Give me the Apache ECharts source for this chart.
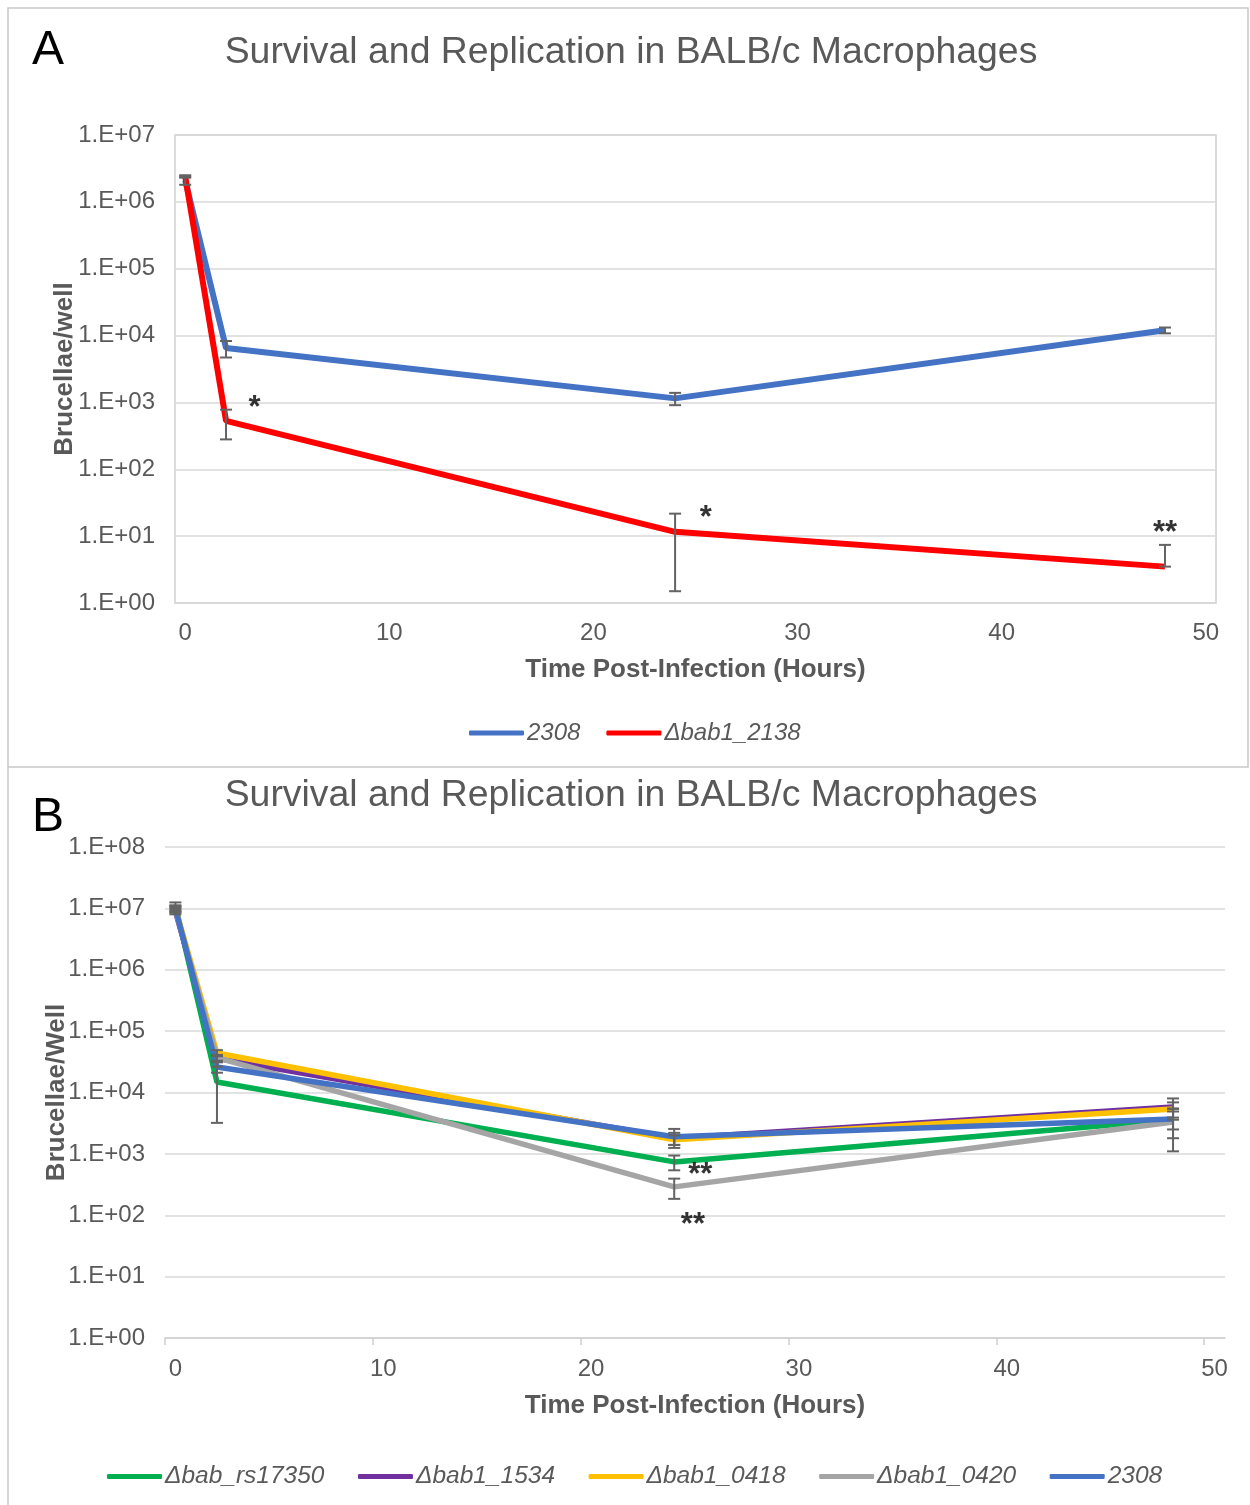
<!DOCTYPE html>
<html>
<head>
<meta charset="utf-8">
<script src="https://cdn.jsdelivr.net/npm/echarts@6/dist/echarts.min.js"></script>
<style>
  html, body { margin: 0; padding: 0; background: #fff; }
  #chart { width: 1250px; height: 1505px; }
</style>
</head>
<body>
<div id="chart"></div>
<script>
// 数据
var xTicks = [0, 10, 20, 30, 40, 50];
var timesA = [0, 2, 24, 48];
var wtA = [2.1e6, 6.5e3, 1150, 1.2e4];
var wtA_sd = [0.3e6, 1.8e3, 240, 1.2e3];
var del2138 = [2.4e6, 530, 11.6, 3.5];
var del2138_sd = [0.1e6, 250, 10.1, 3.9];

var timesB = [0, 2, 24, 48];
var namesB = ['Δbab_rs17350', 'Δbab1_1534', 'Δbab1_0418', 'Δbab1_0420', '2308'];
var colorsB = ['#00B050', '#7030A0', '#FFC000', '#A5A5A5', '#4472C4'];
var rs17350 = [1.1e7, 1.48e4, 740, 3.6e3];
var rs17350_sd = [1.5e6, 1.16e4, 200, 1.8e3];
var b1534 = [9.0e6, 3.6e4, 1.8e3, 5.8e3];
var b1534_sd = [1.0e6, 4e3, 400, 2.2e3];
var b0418 = [1.0e7, 4.4e4, 1.7e3, 5.4e3];
var b0418_sd = [1.0e6, 5e3, 300, 1.5e3];
var b0420 = [9.5e6, 3.7e4, 290, 3.3e3];
var b0420_sd = [1.0e6, 4e3, 105, 2.2e3];
var wtB = [1.0e7, 2.6e4, 1.9e3, 3.7e3];
var wtB_sd = [1.2e6, 5e3, 650, 1.2e3];

// 星号标注
var starsA = [[3.4, 800, '*'], [25.5, 18.2, '*'], [48.0, 10.9, '**']];
var starsB = [[25.25, 440, '**'], [24.9, 67, '**']];

var myChart = echarts.init(document.getElementById('chart'));

var grey = '#595959';
var font = 'Liberation Sans, Arial, sans-serif';

function pts(times, vals) {
    return times.map(function (t, i) { return [t, vals[i]]; });
}
function errs(times, vals, sd) {
    return times.map(function (t, i) {
        var lo = vals[i] - sd[i];
        if (lo <= 0) lo = vals[i];
        return [t, lo, vals[i] + sd[i]];
    });
}
function renderErr(params, api) {
    var x = api.value(0);
    var p1 = api.coord([x, api.value(1)]);
    var p2 = api.coord([x, api.value(2)]);
    var w = 6;
    var st = { stroke: '#636363', lineWidth: 2 };
    return {
        type: 'group',
        children: [
            { type: 'line', shape: { x1: p1[0], y1: p1[1], x2: p2[0], y2: p2[1] }, style: st },
            { type: 'line', shape: { x1: p1[0] - w, y1: p1[1], x2: p1[0] + w, y2: p1[1] }, style: st },
            { type: 'line', shape: { x1: p2[0] - w, y1: p2[1], x2: p2[0] + w, y2: p2[1] }, style: st }
        ]
    };
}
function lineSeries(name, color, idx, times, vals, width) {
    return {
        name: name, type: 'line', xAxisIndex: idx, yAxisIndex: idx,
        data: pts(times, vals), symbol: 'none', color: color,
        lineStyle: { width: width, color: color }, z: 3, animation: false
    };
}
function errSeries(idx, times, vals, sd) {
    return {
        name: 'err', type: 'custom', xAxisIndex: idx, yAxisIndex: idx,
        renderItem: renderErr, encode: { x: 0, y: [1, 2] },
        data: errs(times, vals, sd), z: 5, animation: false, silent: true
    };
}
function starSeries(idx, stars) {
    return {
        name: 'stars', type: 'scatter', xAxisIndex: idx, yAxisIndex: idx,
        symbolSize: 1, itemStyle: { color: 'rgba(0,0,0,0)' }, silent: true, z: 6,
        data: stars.map(function (s) { return { value: [s[0], s[1]], name: s[2] }; }),
        label: {
            show: true, position: 'inside', formatter: '{b}',
            color: '#000', fontSize: 31, fontWeight: 'bold', fontFamily: font
        },
        animation: false
    };
}
function logLabel(v) {
    var e = Math.round(Math.log10(v));
    return '1.E+' + (e < 10 ? '0' : '') + e;
}

var xAxisBase = {
    type: 'value', min: -0.5, max: 50.5,
    name: 'Time Post-Infection (Hours)', nameLocation: 'middle',
    nameTextStyle: { color: grey, fontSize: 26, fontWeight: 'bold', fontFamily: font },
    splitLine: { show: false },
    axisLabel: { customValues: xTicks, color: grey, fontSize: 24, fontFamily: font }
};

option = {
    textStyle: { fontFamily: font },
    title: [
        { text: 'Survival and Replication in BALB/c Macrophages', left: 626, top: 29, textAlign: 'center',
          textStyle: { color: grey, fontSize: 37.4, fontWeight: 'normal', fontFamily: font } },
        { text: 'Survival and Replication in BALB/c Macrophages', left: 626, top: 772, textAlign: 'center',
          textStyle: { color: grey, fontSize: 37.4, fontWeight: 'normal', fontFamily: font } },
        { text: 'A', left: 27, top: 22, textStyle: { color: '#000', fontSize: 48, fontWeight: 'normal', fontFamily: font } },
        { text: 'B', left: 27, top: 789, textStyle: { color: '#000', fontSize: 48, fontWeight: 'normal', fontFamily: font } }
    ],
    graphic: [
        { type: 'rect', shape: { x: 8, y: 8, width: 1240, height: 759 }, style: { fill: 'none', stroke: '#c8c8c8', lineWidth: 1.5 }, silent: true },
        { type: 'line', shape: { x1: 8, y1: 767, x2: 8, y2: 1505 }, style: { stroke: '#c8c8c8', lineWidth: 1.5 }, silent: true }
    ],
    legend: [
        { data: ['2308', 'Δbab1_2138'], left: 464, top: 716, icon: 'roundRect',
          itemWidth: 55, itemHeight: 5, itemGap: 26,
          textStyle: { color: grey, fontSize: 24, fontStyle: 'italic', fontFamily: font, padding: [0, 0, 0, -2] } },
        { data: namesB, left: 102, top: 1459, icon: 'roundRect',
          itemWidth: 55, itemHeight: 5, itemGap: 33.5,
          textStyle: { color: grey, fontSize: 24.5, fontStyle: 'italic', fontFamily: font, padding: [0, 0, 0, -2] } }
    ],
    grid: [
        { left: 175, top: 135, width: 1041, height: 468, show: true, borderColor: '#d0d0d0', borderWidth: 1.5 },
        { left: 165, top: 847, width: 1060, height: 491 }
    ],
    xAxis: [
        echarts.util.merge({
            gridIndex: 0, nameGap: 54,
            axisLabel: { margin: 18 },
            axisLine: { show: false }, axisTick: { show: false }
        }, xAxisBase, true),
        echarts.util.merge({
            gridIndex: 1, nameGap: 55,
            axisLabel: { margin: 19 },
            axisLine: { show: true, lineStyle: { color: '#d0d0d0', width: 1.5 } },
            axisTick: { show: true, customValues: [-0.5, 9.5, 19.5, 29.5, 39.5, 49.5], length: 7, lineStyle: { color: '#d0d0d0', width: 1.5 } }
        }, xAxisBase, true)
    ],
    yAxis: [
        { type: 'log', gridIndex: 0, min: 1, max: 1e7, interval: 1, logBase: 10,
          name: 'Brucellae/well', nameLocation: 'middle', nameGap: 97, nameMoveOverlap: false,
          nameTextStyle: { color: grey, fontSize: 26, fontWeight: 'bold', fontFamily: font },
          axisLine: { show: false }, axisTick: { show: false },
          splitLine: { lineStyle: { color: '#d9d9d9', width: 1.5 } },
          axisLabel: { formatter: logLabel, color: grey, fontSize: 24, fontFamily: font, margin: 20 } },
        { type: 'log', gridIndex: 1, min: 1, max: 1e8, interval: 1, logBase: 10,
          name: 'Brucellae/Well', nameLocation: 'middle', nameGap: 95, nameMoveOverlap: false,
          nameTextStyle: { color: grey, fontSize: 26, fontWeight: 'bold', fontFamily: font },
          axisLine: { show: false }, axisTick: { show: false },
          splitLine: { lineStyle: { color: '#d9d9d9', width: 1.5 } },
          axisLabel: { formatter: logLabel, color: grey, fontSize: 24, fontFamily: font, margin: 20 } }
    ],
    series: [
        lineSeries('2308', '#4472C4', 0, timesA, wtA, 6),
        lineSeries('Δbab1_2138', '#FF0000', 0, timesA, del2138, 6),
        errSeries(0, timesA, wtA, wtA_sd),
        errSeries(0, timesA, del2138, del2138_sd),
        starSeries(0, starsA),

        lineSeries(namesB[0], colorsB[0], 1, timesB, rs17350, 5.5),
        lineSeries(namesB[1], colorsB[1], 1, timesB, b1534, 5.5),
        lineSeries(namesB[2], colorsB[2], 1, timesB, b0418, 5.5),
        lineSeries(namesB[3], colorsB[3], 1, timesB, b0420, 5.5),
        lineSeries(namesB[4], colorsB[4], 1, timesB, wtB, 5.5),
        errSeries(1, timesB, rs17350, rs17350_sd),
        errSeries(1, timesB, b1534, b1534_sd),
        errSeries(1, timesB, b0418, b0418_sd),
        errSeries(1, timesB, b0420, b0420_sd),
        errSeries(1, timesB, wtB, wtB_sd),
        starSeries(1, starsB)
    ]
};

myChart.setOption(option);
</script>
</body>
</html>
